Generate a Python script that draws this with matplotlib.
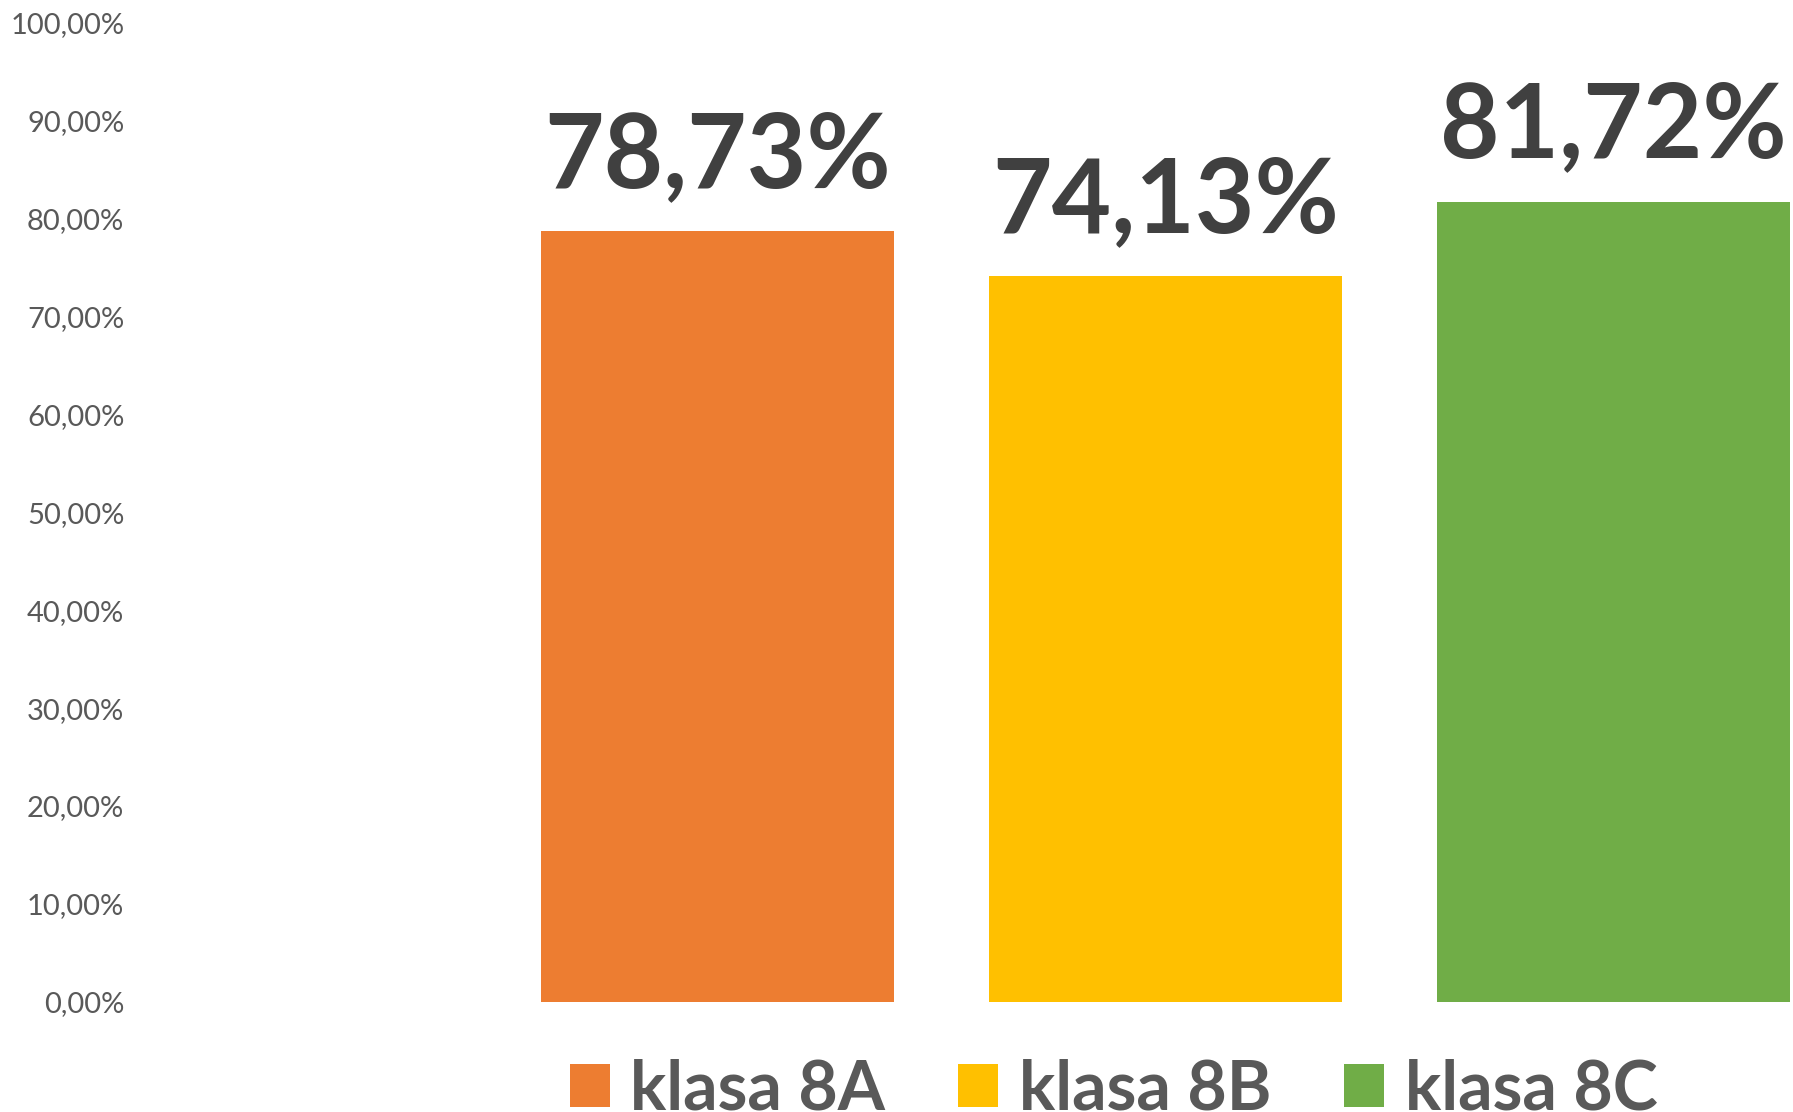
import matplotlib
matplotlib.use("Agg")
import matplotlib.pyplot as plt
from matplotlib.patches import Patch
from matplotlib.ticker import FuncFormatter

categories = ["klasa 8A", "klasa 8B", "klasa 8C"]
values = [78.73, 74.13, 81.72]
value_labels = ["78,73%", "74,13%", "81,72%"]
colors = ["#ED7D31", "#FFC000", "#70AD47"]
yticks = [0, 10, 20, 30, 40, 50, 60, 70, 80, 90, 100]

plt.rcParams['font.family'] = ['Lato', 'DejaVu Sans']

W, H = 1793, 1112
fig = plt.figure(figsize=(W / 100, H / 100), dpi=100)
left_px = 134
bottom = (H - 1001.7) / H
top = (H - 22.9) / H
ax = fig.add_axes([left_px / W, bottom, 1 - left_px / W, top - bottom])

x = list(range(len(categories)))
ax.bar(x, values, width=0.788, color=colors)

for xi, v, lab in zip(x, values, value_labels):
    ax.annotate(lab, (xi, v), xytext=(0, 32), textcoords="offset points",
                ha="center", va="baseline", fontsize=74, fontweight="bold",
                color="#404040")

ax.set_xlim((left_px - 717.5) / 448, (W - 717.5) / 448)
ax.set_ylim(0, 100)
ax.set_yticks(yticks)
ax.yaxis.set_major_formatter(FuncFormatter(lambda v, p: f"{v:.2f}%".replace(".", ",")))
ax.tick_params(axis="y", length=0, pad=7, labelsize=21, labelcolor="#595959")
ax.set_xticks([])
for s in ax.spines.values():
    s.set_visible(False)

handles = [Patch(facecolor=c, edgecolor="none") for c in colors]
fig.legend(handles, categories, loc="center", bbox_to_anchor=(0.621, 0.020),
           ncol=3, frameon=False, handlelength=0.59, handleheight=0.59,
           handletextpad=0.3, columnspacing=1.07, borderpad=0, borderaxespad=0,
           labelcolor="#595959", prop={"weight": "bold", "size": 49})

fig.savefig("out.png", dpi=100)
